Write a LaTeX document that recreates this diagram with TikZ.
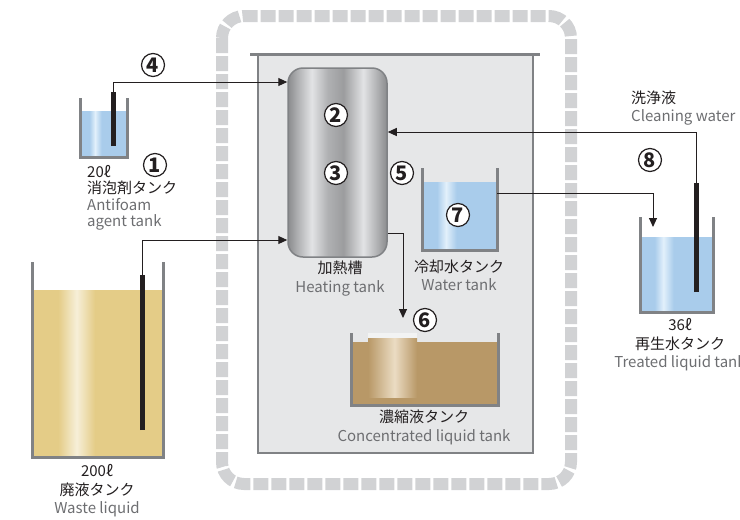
\documentclass[tikz,border=0pt]{standalone}
\usepackage{fontspec}
\setmainfont{Noto Sans CJK JP}
\usepackage{xcolor}
\usetikzlibrary{arrows.meta, positioning}

\definecolor{grisCadre}{HTML}{D1D2D4}
\definecolor{grisBoite}{HTML}{E6E7E8}
\definecolor{grisParoi}{HTML}{808285}
\definecolor{noirTuyau}{HTML}{231F20}
\definecolor{texteGris}{HTML}{6D6E71}
\definecolor{bleuEau}{HTML}{A9CCEB}
\definecolor{bleuClair}{HTML}{E2F0FB}
\definecolor{jauneDechet}{HTML}{E4CC87}
\definecolor{jauneClair}{HTML}{F7EFD8}
\definecolor{brunConc}{HTML}{B89867}
\definecolor{brunClair}{HTML}{EBDCC3}
\definecolor{metalSombre}{HTML}{8A8B8D}
\definecolor{metalMoyen}{HTML}{B0B1B3}
\definecolor{metalClair}{HTML}{E2E3E5}

% dégradés des liquides et du métal (zone utile : 25bp..75bp)
\pgfdeclarehorizontalshading{eauBleue}{100bp}{color(0bp)=(bleuEau); color(25bp)=(bleuEau);
  color(35bp)=(bleuEau); color(41bp)=(bleuClair); color(48bp)=(bleuEau); color(100bp)=(bleuEau)}
\pgfdeclarehorizontalshading{dechet}{100bp}{color(0bp)=(jauneDechet); color(25bp)=(jauneDechet);
  color(35bp)=(jauneDechet); color(42bp)=(jauneClair); color(49bp)=(jauneDechet); color(100bp)=(jauneDechet)}
\pgfdeclarehorizontalshading{concentre}{100bp}{color(0bp)=(brunConc); color(25bp)=(brunConc);
  color(52bp)=(brunClair); color(75bp)=(brunConc); color(100bp)=(brunConc)}
\pgfdeclarehorizontalshading{metal}{100bp}{color(0bp)=(metalSombre); color(25bp)=(metalSombre);
  color(30bp)=(metalMoyen); color(37bp)=(metalClair); color(45bp)=(metalMoyen); color(53bp)=(metalSombre!85!white);
  color(63bp)=(metalClair); color(70bp)=(metalMoyen); color(75bp)=(metalSombre); color(100bp)=(metalSombre)}

\begin{document}
\begin{tikzpicture}[x=1pt,y=-1pt,>={Triangle[length=9pt,width=8pt]},
    cadre/.style={draw=grisCadre, line width=12pt, dash pattern=on 15pt off 3pt, rounded corners=22pt},
    boite/.style={fill=grisBoite, draw=grisParoi, line width=1.5pt},
    paroi/.style={draw=grisParoi, line width=3pt},
    tuyau/.style={draw=noirTuyau, line width=5pt},
    conduite/.style={->, draw=noirTuyau, line width=1pt},
    numero/.style={circle, draw=noirTuyau, fill=white, line width=1.2pt, minimum size=23pt, inner sep=0pt,
      text=noirTuyau, font=\fontsize{20}{20}\selectfont\bfseries},
    etiquette/.style={align=center, inner sep=0pt, text=noirTuyau, font=\fontsize{15}{18.5}\selectfont}]
  \useasboundingbox (0,0) rectangle (740,520);

  % cadre en pointillés et boîte du module
  \draw[cadre] (222,16) rectangle (571,484);
  \filldraw[boite] (258,54) rectangle (533,453);
  \draw[grisParoi, line width=3pt] (250,54) -- (540,54);

  % réservoir d'antimousse
  \shade[shading=eauBleue] (80,111) rectangle (127,157);
  \draw[paroi] (80,98) -- (80,157) -- (127,157) -- (127,98);
  \draw[tuyau] (113,146) -- (113,92) coordinate (tuyauA);

  % réservoir de déchets
  \shade[shading=dechet] (32,290) rectangle (163,457);
  \draw[paroi] (32,262) -- (32,457) -- (163,457) -- (163,262);
  \draw[tuyau] (142,430) -- (142,275) coordinate (tuyauB);

  % réservoir de chauffe
  \node[draw=grisParoi, line width=1.5pt, rounded corners=15pt, shade, shading=metal,
        minimum width=99pt, minimum height=189pt] (chauffe) at (337.5,162.5) {};

  % réservoir d'eau de refroidissement
  \shade[shading=eauBleue] (422,182) rectangle (497,250);
  \draw[paroi] (422,168) -- (422,250) -- (497,250) -- (497,168);
  \coordinate (sortieEau) at (497,193);

  % réservoir de concentrat
  \fill[brunConc] (351,342) rectangle (498,405);
  \shade[shading=concentre] (368,338) rectangle (417,397);
  \fill[white!90!grisParoi] (368,333) rectangle (417,338);
  \draw[paroi] (351,333) -- (351,405) -- (498,405) -- (498,333);
  \coordinate (entreeConc) at (403,318);

  % réservoir d'eau traitée
  \shade[shading=eauBleue] (640,237) rectangle (713,312);
  \draw[paroi] (640,217) -- (640,312) -- (713,312) -- (713,217);
  \draw[tuyau] (696,292) -- (696,183) coordinate (tuyauC);
  \coordinate (entreeTraitee) at (653,227);

  % conduites
  \draw[conduite] (tuyauA) |- (chauffe.west |- 0,82);
  \draw[conduite] (tuyauB) |- (chauffe.west |- 0,240);
  \draw[conduite] (tuyauC) |- (chauffe.east |- 0,132);
  \draw[conduite] (chauffe.east |- 0,233) -| (entreeConc);
  \draw[conduite] (sortieEau) -| (entreeTraitee);

  % numéros des étapes
  \node[numero] (n1) at (155,165) {1};
  \node[numero] (n2) at (336,115) {2};
  \node[numero] (n3) at (336,173) {3};
  \node[numero] (n4) at (153,65) {4};
  \node[numero] (n5) at (402,173) {5};
  \node[numero] (n6) at (425,320) {6};
  \node[numero] (n7) at (458,215) {7};
  \node[numero] (n8) at (650,160) {8};

  % légendes
  \node[etiquette, align=left, anchor=north west, font=\fontsize{15}{16.5}\selectfont] (etiqA) at (87,165)
    {20ℓ\\消泡剤タンク\\\textcolor{texteGris}{Antifoam}\\\textcolor{texteGris}{agent tank}};
  \node[etiquette] (etiqB) at (97,491) {200ℓ\\廃液タンク\\\textcolor{texteGris}{Waste liquid}};
  \node[etiquette] (etiqC) at (340,278.5) {加熱槽\\\textcolor{texteGris}{Heating tank}};
  \node[etiquette] (etiqD) at (459,275.5) {冷却水タンク\\\textcolor{texteGris}{Water tank}};
  \node[etiquette] (etiqE) at (424,427.5) {濃縮液タンク\\\textcolor{texteGris}{Concentrated liquid tank}};
  \node[etiquette] (etiqF) at (680,345) {36ℓ\\再生水タンク\\\textcolor{texteGris}{Treated liquid tank}};
  \node[etiquette, align=left, anchor=west] (etiqG) at (631,108) {洗浄液\\\textcolor{texteGris}{Cleaning water}};
\end{tikzpicture}
\end{document}
